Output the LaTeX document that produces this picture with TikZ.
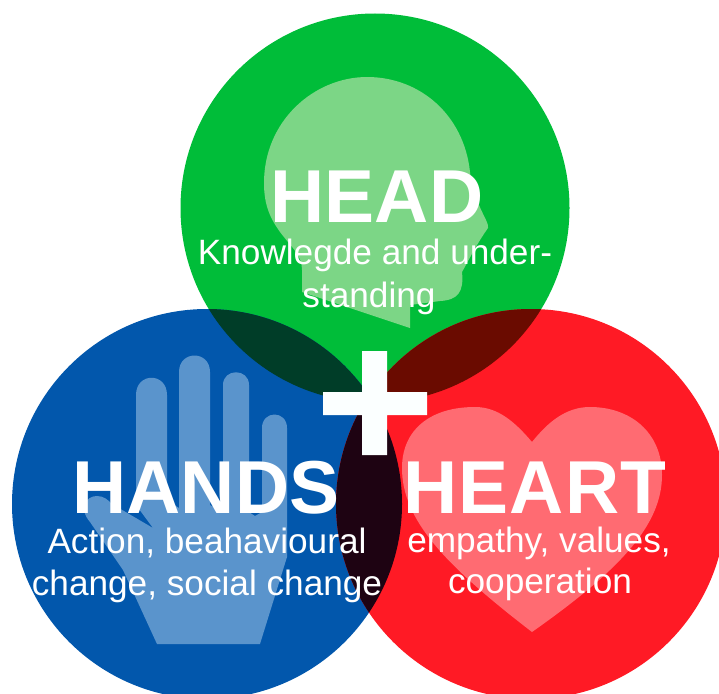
\documentclass[tikz,border=0pt]{standalone}
\usepackage{fontspec}
\setmainfont{Liberation Sans}
\definecolor{cgreen}{HTML}{00BD39}
\definecolor{cblue}{HTML}{0257AC}
\definecolor{cred}{HTML}{FF1A25}
\definecolor{cgb}{HTML}{003D28}
\definecolor{cgr}{HTML}{6A0B00}
\definecolor{cbr}{HTML}{1E0312}
\definecolor{lgreen}{HTML}{7CD686}
\definecolor{lblue}{HTML}{5A94CC}
\definecolor{lred}{HTML}{FF6B72}
\definecolor{cplus}{HTML}{FBFFFF}
\tikzset{
  big/.style={text=white,anchor=base,inner sep=0pt,font=\fontsize{75}{75}\bfseries\selectfont},
  small/.style={text=white,anchor=base,inner sep=0pt,font=\fontsize{35.2}{36}\selectfont},
}
\begin{document}
\begin{tikzpicture}[x=1pt,y=-1pt]
\useasboundingbox (0,0) rectangle (719,693);
\clip (0,0) rectangle (719,693);
\def\Gc{(375,208) circle[radius=194.5]}
\def\Bc{(207,504) circle[radius=195]}
\def\Rc{(531,504) circle[radius=195]}
\fill[cgreen] \Gc;
\fill[cblue] \Bc;
\fill[cred] \Rc;
\begin{scope}\clip \Gc; \fill[cgb] \Bc; \fill[cgr] \Rc;\end{scope}
\begin{scope}\clip \Bc; \fill[cbr] \Rc;\end{scope}
% head
\fill[lgreen] (367,77) .. controls (315,77) and (264,120) .. (264,183)
  .. controls (264,205) and (270,218) .. (280,232)
  .. controls (292,248) and (302,255) .. (302,270)
  -- (302,292) -- (410,328) -- (410,305) -- (440,301)
  .. controls (458,300) and (464,292) .. (462,272)
  .. controls (470,258) and (476,245) .. (488,228)
  .. controls (490,222) and (474,205) .. (470,172)
  .. controls (464,115) and (420,77) .. (367,77) -- cycle;
% hand
\fill[lblue] (157,644) -- (123,570) -- (90,522)
  .. controls (78,508) and (86,496) .. (97,496)
  .. controls (104,496) and (108,500) .. (112,504)
  -- (153,528) -- (136,505) -- (136,395)
  .. controls (136,372) and (167,372) .. (167,395)
  -- (167,500) -- (179,508) -- (179,372)
  .. controls (179,350) and (210,350) .. (210,372)
  -- (210,505) -- (223,512) -- (223,385)
  .. controls (223,368) and (249,368) .. (249,385)
  -- (249,512) -- (255,516) -- (262,512) -- (262,428)
  .. controls (262,410) and (287,410) .. (287,428)
  -- (287,557) -- (260,644) -- cycle;
% heart
\fill[lred] (532,442) .. controls (515,422) and (498,407) .. (475,407)
  .. controls (430,407) and (402,430) .. (402,468)
  .. controls (402,520) and (445,565) .. (532,632)
  .. controls (620,570) and (662,525) .. (662,475)
  .. controls (662,432) and (630,407) .. (590,407)
  .. controls (566,407) and (548,422) .. (532,442) -- cycle;
% plus
\fill[cplus] (362,351) -- (387,351) -- (387,392) -- (427,392) -- (427,415) -- (387,415) -- (387,455) -- (362,455) -- (362,415) -- (323,415) -- (323,392) -- (362,392) -- cycle;
\node[big] (head) at (377,222) {HEAD};
\node[small] (headA) at (375,264) {Knowlegde and under-};
\node[small] (headB) at (369,307) {standing};
\node[big] (hands) at (206,513) {HANDS};
\node[small] (handsA) at (207,553) {Action, beahavioural};
\node[small] (handsB) at (207,595) {change, social change};
\node[big] (heart) at (535,513) {\addfontfeatures{LetterSpace=1.3}HEART};
\node[small] (heartA) at (539,552) {empathy, values,};
\node[small] (heartB) at (540,593) {cooperation};
\end{tikzpicture}
\end{document}
